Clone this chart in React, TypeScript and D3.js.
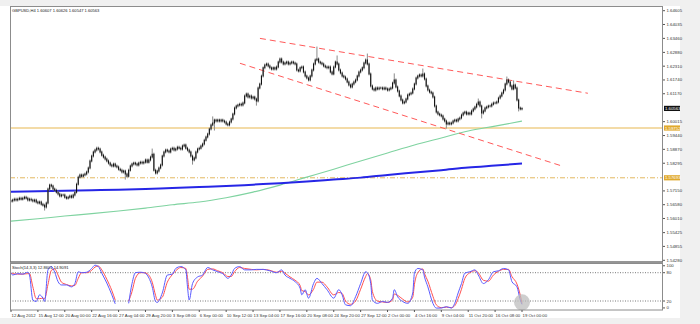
import React from 'react';
import * as d3 from 'd3';

// ---- DATA ----
const symbolTitle = 'GBPUSD,H4  1.60607 1.60626 1.60547 1.60563';
const stochTitle = 'Stoch(14,3,3) 12.8601 14.9091';

const closes = [
  1.5673,1.5677,1.5681,1.5677,1.5681,1.5685,1.5681,1.5685,1.5689,1.5685,
  1.5677,1.5681,1.5677,1.5673,1.5677,1.5669,1.5665,1.5669,1.5660,1.5656,
  1.5648,1.5665,1.5723,1.5739,1.5735,1.5723,1.5718,1.5710,1.5702,1.5694,
  1.5698,1.5698,1.5689,1.5685,1.5689,1.5694,1.5689,1.5698,1.5710,1.5743,
  1.5772,1.5781,1.5776,1.5781,1.5785,1.5793,1.5810,1.5839,1.5859,1.5876,
  1.5884,1.5892,1.5888,1.5876,1.5863,1.5855,1.5847,1.5839,1.5830,1.5822,
  1.5818,1.5826,1.5818,1.5814,1.5805,1.5801,1.5793,1.5797,1.5785,1.5776,
  1.5801,1.5818,1.5826,1.5830,1.5826,1.5822,1.5830,1.5834,1.5830,1.5834,
  1.5843,1.5834,1.5843,1.5855,1.5867,1.5801,1.5789,1.5797,1.5810,1.5822,
  1.5859,1.5876,1.5884,1.5880,1.5876,1.5888,1.5892,1.5884,1.5888,1.5896,
  1.5892,1.5888,1.5901,1.5905,1.5892,1.5884,1.5876,1.5859,1.5843,1.5851,
  1.5876,1.5888,1.5892,1.5901,1.5909,1.5925,1.5938,1.5950,1.5971,1.5988,
  1.5996,1.6008,1.6004,1.6008,1.6004,1.6008,1.6004,1.6000,1.5992,1.5988,
  1.6000,1.6012,1.6033,1.6058,1.6066,1.6070,1.6074,1.6070,1.6079,1.6108,
  1.6116,1.6103,1.6108,1.6099,1.6103,1.6095,1.6087,1.6141,1.6157,1.6190,
  1.6224,1.6236,1.6240,1.6232,1.6224,1.6219,1.6224,1.6219,1.6228,1.6248,
  1.6261,1.6248,1.6240,1.6244,1.6248,1.6240,1.6244,1.6248,1.6244,1.6240,
  1.6215,1.6211,1.6224,1.6228,1.6207,1.6190,1.6182,1.6174,1.6190,1.6215,
  1.6240,1.6257,1.6261,1.6248,1.6244,1.6240,1.6232,1.6228,1.6224,1.6228,
  1.6207,1.6199,1.6228,1.6248,1.6240,1.6215,1.6203,1.6190,1.6186,1.6178,
  1.6166,1.6153,1.6145,1.6157,1.6166,1.6174,1.6190,1.6207,1.6215,1.6224,
  1.6244,1.6257,1.6240,1.6199,1.6149,1.6137,1.6132,1.6141,1.6137,1.6141,
  1.6141,1.6137,1.6141,1.6137,1.6132,1.6137,1.6141,1.6161,1.6174,1.6145,
  1.6128,1.6108,1.6091,1.6079,1.6083,1.6095,1.6112,1.6116,1.6120,1.6137,
  1.6157,1.6182,1.6190,1.6195,1.6190,1.6199,1.6178,1.6149,1.6132,1.6124,
  1.6120,1.6103,1.6066,1.6041,1.6033,1.6029,1.6025,1.6012,1.6004,1.5992,
  1.5996,1.5992,1.5996,1.6004,1.6008,1.6004,1.6012,1.6017,1.6029,1.6037,
  1.6041,1.6033,1.6037,1.6033,1.6046,1.6054,1.6062,1.6074,1.6083,1.6066,
  1.6037,1.6046,1.6058,1.6062,1.6066,1.6066,1.6074,1.6079,1.6079,1.6083,
  1.6099,1.6108,1.6120,1.6132,1.6157,1.6174,1.6166,1.6149,1.6137,1.6153,
  1.6141,1.6091,1.6058,1.6054,1.60563,
];

const spikeHighIdx = [84, 120, 182, 194, 212, 228, 245, 278, 295, 299];
const spikeHighVal = [1.5884, 1.6017, 1.6306, 1.6269, 1.6277, 1.6195, 1.6215, 1.6091, 1.6182, 1.6166];
const spikeLowIdx = [20, 68, 108, 121, 146, 259, 280, 302];
const spikeLowVal = [1.5640, 1.5768, 1.5830, 1.5971, 1.6074, 1.5979, 1.6021, 1.6050];

const maIdx = [0,16,32,48,64,80,96,112,128,144,160,176,192,208,224,240,256,272,288,304];
const maGreen = [1.5590,1.5600,1.5611,1.5621,1.5632,1.5644,1.5658,1.5669,1.5687,1.5710,
  1.5739,1.5772,1.5805,1.5839,1.5872,1.5905,1.5934,1.5963,1.5983,1.6004];
const maBlue = [1.5712,1.5714,1.5716,1.5718,1.5720,1.5723,1.5727,1.5731,1.5735,1.5741,
  1.5747,1.5754,1.5762,1.5770,1.5781,1.5791,1.5801,1.5812,1.5820,1.5828];

const channelUpperIdx = [148.1, 343.2];
const channelUpperVal = [1.6346, 1.6119];
const channelLowerIdx = [136.2, 327.8];
const channelLowerVal = [1.6243, 1.5818];

const levelSolid = 1.59752;
const levelDashDot = 1.57693;
const lastPrice = 1.60563;

const priceTicks = [1.64605,1.64035,1.6346,1.6288,1.6231,1.6174,1.6117,1.60015,1.5944,1.5887,1.58295,
  1.5715,1.5658,1.5601,1.55425,1.54855,1.5428];

const timeLabels = ['12 Aug 2012','15 Aug 12:00','20 Aug 00:00','22 Aug 16:00','27 Aug 04:00','29 Aug 20:00',
  '3 Sep 08:00','6 Sep 00:00','10 Sep 12:00','13 Sep 04:00','17 Sep 16:00','20 Sep 08:00','24 Sep 20:00',
  '27 Sep 12:00','2 Oct 00:00','4 Oct 16:00','9 Oct 04:00','11 Oct 20:00','16 Oct 08:00','19 Oct 00:00'];
const barsPerLabel = 16;

const stochIdx = [0,1,4,7,10,11,13,15,17,19,20,22,24,26,28,30,33,36,38,40,42,45,48,50,52,54,57,60,62,66,
  70,72,74,77,79,81,84,86,87,90,93,96,98,101,104,105,106,108,111,114,115,117,120,123,126,129,131,133,136,139,
  143,146,150,154,158,161,163,166,169,172,173,175,177,180,182,185,188,192,195,197,199,202,205,208,211,212,214,
  215,218,221,224,227,228,230,233,236,239,240,242,245,246,248,251,253,256,259,262,264,266,268,270,273,276,278,
  281,284,287,290,293,296,298,301,303,304];
const stochMain = [80,75,78,77,81,75,22,19,33,26,19,86,93,81,61,54,54,50,57,82,80,81,89,96,93,79,58,33,14,NaN,
  15,57,80,81,80,75,50,19,17,37,75,77,89,93,86,50,22,57,71,75,81,91,86,82,78,68,75,89,93,86,
  86,87,87,84,80,86,75,68,61,47,33,44,26,57,68,57,44,26,44,33,12,10,29,57,82,80,57,
  22,15,19,17,26,44,29,19,15,37,79,89,86,71,50,15,5,5,8,5,15,37,57,79,82,86,75,
  57,65,82,84,89,86,61,50,22,12.86];
const stochSignal = [79,78,77,77,78,78,50,25,25,26,25,55,85,88,75,60,55,52,53,68,80,80,85,92,94,86,66,42,22,NaN,
  20,40,68,80,80,78,60,32,22,28,60,76,84,91,89,70,45,45,62,73,78,87,88,84,80,72,72,82,91,89,
  87,86,87,85,81,83,79,71,64,53,42,40,33,45,60,60,50,33,38,36,20,13,20,45,72,78,65,
  40,20,18,17,22,35,32,24,18,28,55,80,88,78,62,30,12,6,7,6,10,25,45,68,80,84,80,
  64,62,75,83,87,87,72,56,32,14.91];
const stochLevels = [80, 20];
const stochAxis = [100, 80, 20, 0];

// ---- LAYOUT ----
const W = 700, H = 324;
const L = 10, R = 663, T = 6, MB = 262, ST = 263.5, SB = 310;
const FONT = '"Liberation Sans", Arial, sans-serif';

export default function App() {
  const x = d3.scaleLinear().domain([0, 304]).range([11, 522]);
  const y = d3.scaleLinear().domain([1.5428, 1.64605]).range([260.3, 10.7]);
  const ys = d3.scaleLinear().domain([20, 80]).range([301, 272.7]);

  const bars = closes.map((c, i) => {
    const o = i > 0 ? closes[i - 1] : c;
    let hi = Math.max(o, c), lo = Math.min(o, c);
    const hk = spikeHighIdx.indexOf(i);
    if (hk >= 0) hi = Math.max(hi, spikeHighVal[hk]);
    const lk = spikeLowIdx.indexOf(i);
    if (lk >= 0) lo = Math.min(lo, spikeLowVal[lk]);
    return { i, o, c, hi, lo };
  });

  const maLine = d3.line<number>().x((_, k) => x(maIdx[k])).curve(d3.curveMonotoneX);
  const greenPath = maLine.y((v) => y(v))(maGreen) || '';
  const bluePath = maLine.y((v) => y(v))(maBlue) || '';

  const stLine = (vals: number[]) =>
    d3.line<number>()
      .defined((v) => !isNaN(v))
      .x((_, k) => x(stochIdx[k]))
      .y((v) => ys(v))
      .curve(d3.curveMonotoneX)(vals) || '';

  const chanPath = (idx: number[], val: number[]) =>
    d3.line<number>().x((_, k) => x(idx[k])).y((v) => y(v))(val) || '';

  return (
    <div style={{ position: 'fixed', left: 0, top: 0 }}>
      <svg width={W} height={H} style={{ display: 'block' }} fontFamily={FONT}>
        <defs>
          <clipPath id="mainClip"><rect x={L} y={T} width={R - L} height={MB - T} /></clipPath>
          <clipPath id="stClip"><rect x={L} y={ST} width={R - L} height={SB - ST} /></clipPath>
        </defs>
        <rect x={0} y={0} width={W} height={H} fill="#f0f0f0" />
        <rect x={0} y={T} width={680} height={318 - T} fill="#ffffff" />

        {/* main panel */}
        <g clipPath="url(#mainClip)">
          <line x1={L} x2={R} y1={y(levelDashDot)} y2={y(levelDashDot)} stroke="#e3b860" strokeWidth={1} strokeDasharray="5,2,1,2" />
          <line x1={L} x2={R} y1={y(levelSolid)} y2={y(levelSolid)} stroke="#e8b850" strokeWidth={1.2} />
          <path d={greenPath} fill="none" stroke="#7fd3a0" strokeWidth={1.1} />
          <path d={bluePath} fill="none" stroke="#2626e6" strokeWidth={2} />
          <path d={chanPath(channelUpperIdx, channelUpperVal)} fill="none" stroke="#ff5a5a" strokeWidth={1} strokeDasharray="6,4" />
          <path d={chanPath(channelLowerIdx, channelLowerVal)} fill="none" stroke="#ff5a5a" strokeWidth={1} strokeDasharray="6,4" />
          {bars.map((b) => (
            <g key={b.i}>
              <line x1={x(b.i)} x2={x(b.i)} y1={y(b.hi) - 1.5} y2={y(b.lo) + 1.5} stroke="#8a8a8a" strokeWidth={1} />
              <line x1={x(b.i)} x2={x(b.i)} y1={Math.min(y(b.o), y(b.c)) - 0.5} y2={Math.max(y(b.o), y(b.c)) + 0.5} stroke="#111" strokeWidth={1.1} />
            </g>
          ))}
        </g>
        <rect x={L + 0.5} y={T + 0.5} width={R - L - 1} height={MB - T - 0.5} fill="none" stroke="#8c8c8c" strokeWidth={1} />
        <text x={12} y={11.5} fontSize={4.1} fill="#222">{symbolTitle}</text>

        {/* price axis */}
        {priceTicks.map((p) => (
          <g key={p}>
            <line x1={R} x2={R + 2} y1={y(p)} y2={y(p)} stroke="#555" />
            <text x={R + 3.5} y={y(p)} dy="0.35em" fontSize={4.3} fill="#333">{p.toFixed(5)}</text>
          </g>
        ))}
        <rect x={R + 1} y={y(lastPrice) - 2.6} width={16} height={5.2} fill="#111" />
        <text x={R + 2} y={y(lastPrice)} dy="0.35em" fontSize={4.3} fill="#fff">{lastPrice.toFixed(5)}</text>
        <rect x={R + 1} y={y(levelSolid) - 2.6} width={16} height={5.2} fill="#e0a92c" />
        <text x={R + 2} y={y(levelSolid)} dy="0.35em" fontSize={4.3} fill="#fff">{levelSolid.toFixed(5)}</text>
        <rect x={R + 1} y={y(levelDashDot) - 2.6} width={16} height={5.2} fill="#e0a92c" />
        <text x={R + 2} y={y(levelDashDot)} dy="0.35em" fontSize={4.3} fill="#fff">{levelDashDot.toFixed(5)}</text>

        {/* stochastic panel */}
        <g clipPath="url(#stClip)">
          {stochLevels.map((v) => (
            <line key={v} x1={L} x2={R} y1={ys(v)} y2={ys(v)} stroke="#555" strokeWidth={0.8} strokeDasharray="1,1.5" />
          ))}
          <path d={stLine(stochSignal)} fill="none" stroke="#ff5050" strokeWidth={1} />
          <path d={stLine(stochMain)} fill="none" stroke="#5a5aff" strokeWidth={1} />
          <circle cx={x(304)} cy={ys(stochMain[stochMain.length - 1]) - 2} r={8} fill="#bdbdbd" opacity={0.75} />
        </g>
        <rect x={L + 0.5} y={ST} width={R - L - 1} height={SB - ST} fill="none" stroke="#8c8c8c" strokeWidth={1} />
        <line x1={L} x2={R} y1={MB} y2={MB} stroke="#666" strokeWidth={1} />
        <text x={12} y={268.5} fontSize={4.1} fill="#222">{stochTitle}</text>
        {stochAxis.map((v) => {
          const yy = v === 100 ? ys(v) + 2.5 : v === 0 ? ys(v) - 2.5 : ys(v);
          return (
            <g key={v}>
              <line x1={R} x2={R + 2} y1={yy} y2={yy} stroke="#555" />
              <text x={R + 3.5} y={yy} dy="0.35em" fontSize={4.3} fill="#333">{v}</text>
            </g>
          );
        })}

        {/* time axis */}
        {timeLabels.map((t, k) => (
          <g key={t}>
            <line x1={x(k * barsPerLabel)} x2={x(k * barsPerLabel)} y1={SB} y2={SB + 2} stroke="#555" />
            <text x={x(k * barsPerLabel) + 0.5} y={317} fontSize={4.3} fill="#333">{t}</text>
          </g>
        ))}
      </svg>
    </div>
  );
}
